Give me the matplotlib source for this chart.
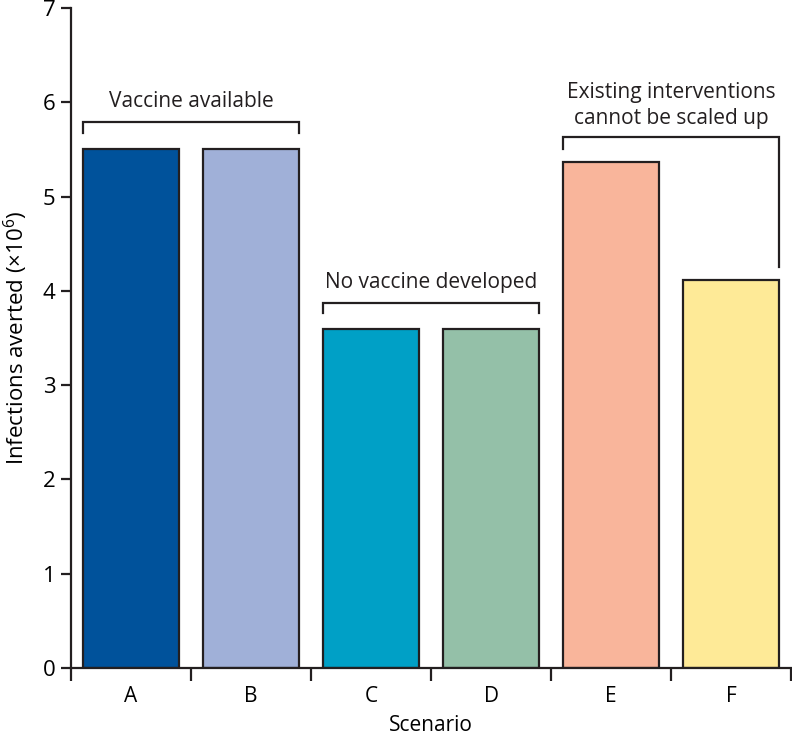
import matplotlib
matplotlib.use("Agg")
import matplotlib.pyplot as plt

plt.rcParams["font.family"] = ["Open Sans", "DejaVu Sans"]
plt.rcParams["mathtext.default"] = "regular"

SCENARIOS = ["A", "B", "C", "D", "E", "F"]
AVERTED = [5.5, 5.5, 3.6, 3.6, 5.37, 4.11]
COLORS = ["#00529b", "#a0b0d8", "#00a0c6", "#94c0a8", "#f9b59b", "#feea97"]
GROUPS = ["Vaccine available", "No vaccine developed",
          "Existing interventions\ncannot be scaled up"]

INK = "#231f20"
W = 0.8

fig = plt.figure(figsize=(7.92, 7.39), dpi=100)
ax = fig.add_axes([71 / 792, 71 / 739, 720 / 792, 660 / 739])

x = list(range(len(SCENARIOS)))
ax.bar(x, AVERTED, width=W, color=COLORS, edgecolor=INK, linewidth=1.6, zorder=2)

ax.set_xlim(-0.5, len(SCENARIOS) - 0.5)
ax.set_ylim(0, 7)
ax.set_yticks(range(8))
ax.set_xticks([i - 0.5 for i in range(len(SCENARIOS) + 1)])
ax.set_xticklabels([])
ax.set_xticks(x, minor=True)
ax.set_xticklabels(SCENARIOS, minor=True)

for s in ("top", "right"):
    ax.spines[s].set_visible(False)
for s in ("left", "bottom"):
    ax.spines[s].set_linewidth(1.6)
    ax.spines[s].set_color(INK)
ax.tick_params(axis="y", length=7, width=1.6, color=INK, labelsize=16, pad=4)
ax.tick_params(axis="x", which="major", length=9, width=1.6, color=INK)
ax.tick_params(axis="x", which="minor", length=0, labelsize=15, pad=13)

ax.set_ylabel("Infections averted (×10$^{6}$)", fontsize=16, labelpad=9)
ax.set_xlabel("Scenario", fontsize=15, labelpad=6)


def bracket(i0, i1, y, drop_l, drop_r, label, ty):
    xl, xr = i0 - W / 2, i1 + W / 2
    ax.plot([xl, xl, xr, xr], [y - drop_l, y, y, y - drop_r],
            color=INK, lw=1.6, solid_joinstyle="miter", zorder=3, clip_on=False)
    ax.text((xl + xr) / 2, ty, label, ha="center", va="center",
            fontsize=15, linespacing=1.3, color=INK)


bracket(0, 1, 5.79, 0.12, 0.12, GROUPS[0], 6.01)
bracket(2, 3, 3.87, 0.11, 0.11, GROUPS[1], 4.09)
bracket(4, 5, 5.63, 0.13, 1.38, GROUPS[2], 5.97)

fig.savefig("out.png", dpi=100)
